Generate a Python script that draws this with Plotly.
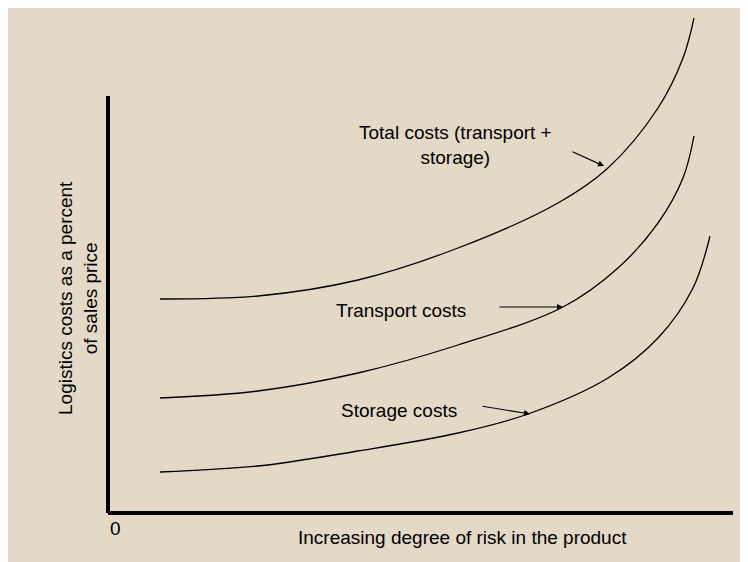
import plotly.graph_objects as go

# risk (x) and cost (y) in arbitrary units
total_x = [52, 150, 250, 350, 450, 500, 550, 575, 586]
total_y = [214, 217, 233, 265, 310, 345, 405, 455, 495]
transport_x = [52, 150, 250, 350, 455, 510, 550, 575, 586]
transport_y = [115, 122, 140, 168, 206, 245, 290, 335, 377]
storage_x = [52, 150, 250, 350, 420, 500, 550, 585, 602]
storage_y = [41, 47, 62, 80, 99, 135, 175, 225, 277]

fig = go.Figure()
for xs, ys in [(total_x, total_y), (transport_x, transport_y), (storage_x, storage_y)]:
    fig.add_trace(go.Scatter(x=xs, y=ys, mode="lines", line=dict(color="black", width=1.3, shape="spline", smoothing=1.0),
                             showlegend=False, hoverinfo="skip", cliponaxis=False))

f = dict(family="Liberation Sans", size=19, color="black")
fig.add_shape(type="line", xref="paper", yref="paper", x0=0, y0=0, x1=0, y1=417/495, line=dict(color="black", width=4))
fig.add_shape(type="line", xref="paper", yref="paper", x0=0, y0=0, x1=1, y1=0, line=dict(color="black", width=4))
ann = [
    dict(x=347, y=368, text="Total costs (transport +<br>storage)"),
    dict(x=293, y=203, text="Transport costs"),
    dict(x=291, y=103, text="Storage costs"),
]
for a in ann:
    fig.add_annotation(x=a["x"], y=a["y"], text=a["text"], showarrow=False, font=f, xref="x", yref="y")
fig.add_annotation(x=0, y=-28/495, text="0", showarrow=False, font=f, xref="paper", yref="paper")
fig.add_annotation(x=355/625, y=-37/495, text="Increasing degree of risk in the product", showarrow=False, font=f,
                   xref="paper", yref="paper")
fig.add_annotation(x=-55/625, y=215/495, text="Logistics costs as a percent<br>of sales price", textangle=-90,
                   showarrow=False, font=f, xref="paper", yref="paper")
for (x0, y0, x1, y1) in [(463, 362, 496, 347), (390, 206, 455, 206), (373, 107, 422, 99)]:
    fig.add_annotation(x=x1, y=y1, ax=x0, ay=y0, xref="x", yref="y", axref="x", ayref="y",
                       text="", showarrow=True, arrowhead=2, arrowsize=1, arrowwidth=1.2, arrowcolor="black")

fig.update_layout(width=748, height=562, paper_bgcolor="#e3d9c6", plot_bgcolor="#e3d9c6",
                  margin=dict(l=100, r=23, t=10, b=57),
                  xaxis=dict(range=[0, 625], visible=False),
                  yaxis=dict(range=[0, 495], visible=False))
fig.write_html("out.html")
